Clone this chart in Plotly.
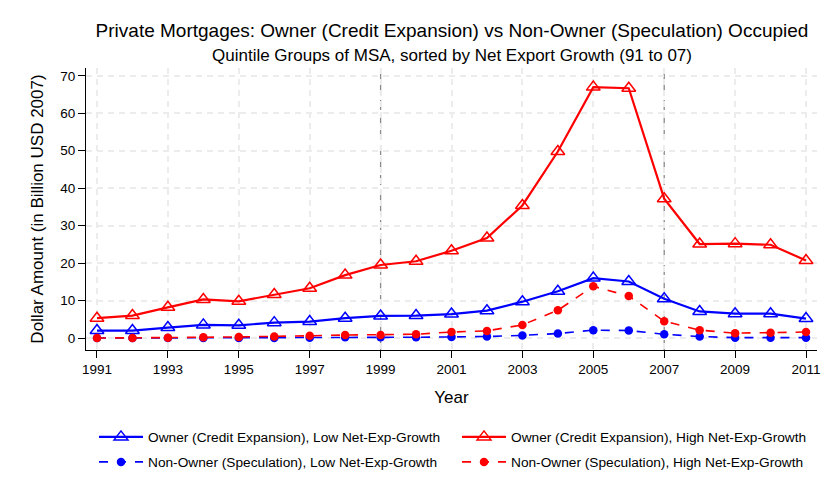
import plotly.graph_objects as go

YEARS = list(range(1991, 2012))

OWNER_LOW = [2.0, 2.0, 2.8, 3.5, 3.4, 4.1, 4.4, 5.3, 5.9, 6.0, 6.4,
             7.3, 9.7, 12.5, 16.0, 15.1, 10.5, 7.1, 6.5, 6.5, 5.2]
OWNER_HIGH = [5.3, 6.0, 8.2, 10.3, 9.8, 11.6, 13.3, 16.8, 19.5, 20.5, 23.3,
              26.7, 35.4, 49.8, 67.0, 66.7, 37.2, 25.1, 25.2, 24.9, 20.7]
NONOWN_LOW = [0.0, 0.0, 0.0, 0.0, 0.0, 0.0, 0.1, 0.2, 0.2, 0.2, 0.3,
              0.4, 0.7, 1.2, 2.1, 2.0, 1.0, 0.4, 0.1, 0.1, 0.1]
NONOWN_HIGH = [0.0, 0.0, 0.1, 0.2, 0.3, 0.4, 0.6, 0.8, 0.8, 1.0, 1.6,
               1.9, 3.5, 7.4, 13.8, 11.2, 4.5, 2.1, 1.3, 1.4, 1.6]

MARK_YEARS = [1999, 2007]

BLUE = "#0000FF"
RED = "#FF0000"
FONT = "Arial, Liberation Sans, sans-serif"
W, H = 836, 501
OFF = 8  # page body margin shifts the figure by this much

fig = go.Figure()

# one single-item legend per series, laid out 2x2 under the plot
series = [
    ("Owner (Credit Expansion), Low Net-Exp-Growth", OWNER_LOW, BLUE, True, 0, 0),
    ("Owner (Credit Expansion), High Net-Exp-Growth", OWNER_HIGH, RED, True, 1, 0),
    ("Non-Owner (Speculation), Low Net-Exp-Growth", NONOWN_LOW, BLUE, False, 0, 1),
    ("Non-Owner (Speculation), High Net-Exp-Growth", NONOWN_HIGH, RED, False, 1, 1),
]
LEG_X = [94, 457]   # page px, left edge of each legend column
LEG_Y = [437, 462]  # page px, centre of each legend row

legends = {}
for i, (name, ys, col, owner, c, r) in enumerate(series):
    if owner:
        line = dict(color=col, width=2.2)
        marker = dict(symbol="triangle-up-open", size=12, color=col,
                      line=dict(color=col, width=1.5))
    else:
        line = dict(color=col, width=1.6, dash="dash")
        marker = dict(symbol="circle", size=8.5, color=col)
    key = "legend" if i == 0 else f"legend{i + 1}"
    fig.add_trace(go.Scatter(x=YEARS, y=ys, name=name, mode="lines+markers",
                             line=line, marker=marker, legend=key))
    legends[key] = dict(
        orientation="h", xref="container", yref="container",
        x=(LEG_X[c] - OFF) / W, xanchor="left",
        y=(H - (LEG_Y[r] - OFF)) / H, yanchor="middle",
        itemwidth=44, font=dict(size=13.7, color="#000"),
        bgcolor="rgba(0,0,0,0)",
    )

for yr in MARK_YEARS:
    fig.add_vline(x=yr, line=dict(color="#8a8a8a", width=1.3, dash="10px,5px"),
                  layer="below")

grid = dict(showgrid=True, gridcolor="#ececec", gridwidth=1.5, griddash="6px,5px")

fig.update_xaxes(
    range=[1990.69, 2011.31], tickvals=list(range(1991, 2012, 2)),
    showline=True, linecolor="#000", linewidth=1, ticks="outside",
    ticklen=7, tickcolor="#000", zeroline=False, automargin=False,
    title=dict(text="Year", font=dict(size=17, color="#000"), standoff=14),
    tickfont=dict(size=13.5, color="#000"), **grid,
)
fig.update_yaxes(
    range=[-3.2, 72.1], tickvals=list(range(0, 71, 10)),
    showline=True, linecolor="#000", linewidth=1, ticks="outside",
    ticklen=7, tickcolor="#000", zeroline=False, automargin=False,
    title=dict(text="Dollar Amount (in Billion USD 2007)",
               font=dict(size=17, color="#000"), standoff=12),
    tickfont=dict(size=13.5, color="#000"), **grid,
)

# plot box in page pixels: x 86..817, y 68..350
fig.update_layout(
    width=W, height=H,
    margin=dict(l=86 - OFF, r=W - (817 - OFF), t=68 - OFF, b=H - (350 - OFF),
                autoexpand=False),
    paper_bgcolor="white", plot_bgcolor="white",
    font=dict(family=FONT, color="#000"),
    title=dict(
        text="Private Mortgages: Owner (Credit Expansion) vs Non-Owner (Speculation) Occupied",
        x=(452 - OFF) / W, xanchor="center", xref="container",
        y=1 - (30 - OFF) / H, yanchor="middle", yref="container",
        font=dict(size=19, color="#000"),
    ),
    annotations=[dict(
        text="Quintile Groups of MSA, sorted by Net Export Growth (91 to 07)",
        xref="paper", yref="paper", x=(452 - 86) / 731, y=1 + 13 / 282,
        xanchor="center", yanchor="middle", showarrow=False,
        font=dict(size=17, color="#000"),
    )],
    showlegend=True,
    **legends,
)

fig.write_html("out.html")
